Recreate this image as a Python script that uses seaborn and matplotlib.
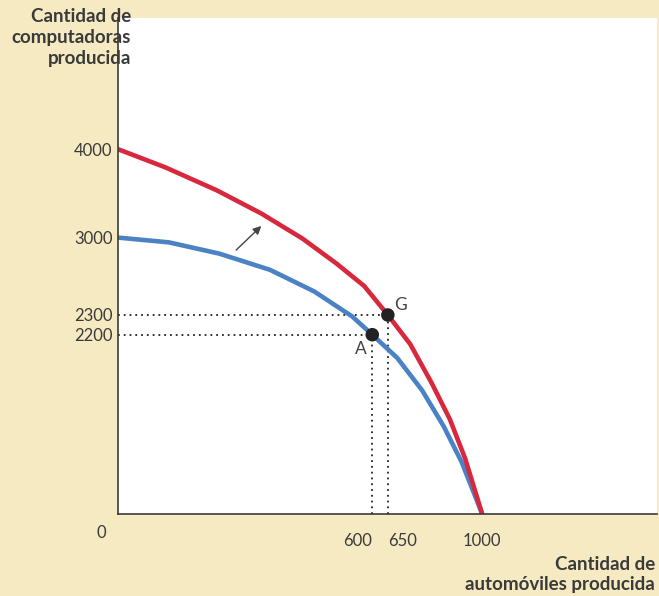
import numpy as np
import pandas as pd
import matplotlib
matplotlib.use("Agg")
import matplotlib.pyplot as plt
import seaborn as sns

# data (the drawing is not to scale, see the axis anchors)
red_x = [0, 112, 233, 338, 435, 516, 581, 650, 733, 813, 880, 937, 1000]
red_y = [4000, 3794, 3535, 3273, 2992, 2764, 2562, 2300, 2084, 1604, 1163, 679, 0]
blue_x = [0, 120, 239, 359, 463, 553, 600, 685, 777, 857, 924, 1000]
blue_y = [3000, 2957, 2855, 2708, 2513, 2292, 2200, 1914, 1518, 1077, 636, 0]
point_names = ["A", "G"]
point_x = [600, 650]
point_y = [2200, 2300]
x_ticks = [600, 650, 1000]
y_ticks = [2200, 2300, 3000, 4000]

# axis anchors: value -> drawn position (the textbook figure is schematic)
x_vals = [-1000, 0, 600, 650, 1000, 3000]
x_pos = [-420, 0, 254.2, 269.8, 364.1, 918.1]
y_vals = [-2000, 0, 2200, 2300, 3000, 4000, 8000]
y_pos = [-164, 0, 179.3, 199.0, 276.4, 364.8, 718.4]

beige = "#f6eac3"
red = "#d8283e"
blue = "#4a82c4"
ink = "#3a3a3a"

sns.set_style("white")
plt.rcParams["font.family"] = ["Lato", "DejaVu Sans"]

fig = plt.figure(figsize=(6.59, 5.96), dpi=100, facecolor=beige)
ax = fig.add_axes([118 / 659, 82 / 596, 539 / 659, 496 / 596])
ax.set_facecolor("white")

ax.set_xscale("function", functions=(lambda v: np.interp(v, x_vals, x_pos),
                                     lambda p: np.interp(p, x_pos, x_vals)))
ax.set_yscale("function", functions=(lambda v: np.interp(v, y_vals, y_pos),
                                     lambda p: np.interp(p, y_pos, y_vals)))

df_red = pd.DataFrame({"x": red_x, "y": red_y})
df_blue = pd.DataFrame({"x": blue_x, "y": blue_y})
sns.lineplot(data=df_blue, x="x", y="y", sort=False, color=blue, linewidth=3.3, ax=ax)
sns.lineplot(data=df_red, x="x", y="y", sort=False, color=red, linewidth=3.3, ax=ax)

# dotted guides to the axes
for px, py in zip(point_x, point_y):
    ax.plot([0, px], [py, py], color="#222222", lw=1.3, linestyle=(0, (1, 2.2)), zorder=1)
    ax.plot([px, px], [0, py], color="#222222", lw=1.3, linestyle=(0, (1, 2.2)), zorder=1)

sns.scatterplot(x=point_x, y=point_y, color="#222222", s=95, edgecolor="none", zorder=5, ax=ax)
offsets = {"A": (-8, -10), "G": (9, 7)}
for name, px, py in zip(point_names, point_x, point_y):
    ax.annotate(name, xy=(px, py), xytext=offsets[name], textcoords="offset points",
                ha="center", va="center", fontsize=12.5, color="#444444")

# arrow showing the shift of the frontier
ax.annotate("", xy=(343, 3153), xytext=(274, 2870),
            arrowprops=dict(arrowstyle="-|>", color="#444444", lw=1.0, mutation_scale=12))

ax.set_xlim(0, 1631)
ax.set_ylim(0, 5484)
ax.set_xticks(x_ticks)
ax.set_xticklabels([str(v) for v in x_ticks])
ax.set_yticks(y_ticks)
ax.set_yticklabels([str(v) for v in y_ticks])
ax.tick_params(length=0, labelsize=12, labelcolor=ink)
ax.tick_params(axis="x", pad=14)
ax.tick_params(axis="y", pad=4)
xlabels = ax.get_xticklabels()
xlabels[0].set_horizontalalignment("right")
xlabels[1].set_horizontalalignment("left")
ax.set_xlabel("")
ax.set_ylabel("")

for side in ["top", "right"]:
    ax.spines[side].set_visible(False)
for side in ["left", "bottom"]:
    ax.spines[side].set_color(ink)
    ax.spines[side].set_linewidth(1.2)

ax.annotate("0", xy=(0, 0), xytext=(-12, -14), textcoords="offset points",
            ha="center", va="center", fontsize=12, color=ink)

fig.text(131 / 659, 1 - 8 / 596, "Cantidad de\ncomputadoras\nproducida", ha="right", va="top",
         fontsize=13.5, fontweight="bold", color=ink, linespacing=1.3)
fig.text(655 / 659, 3 / 596, "Cantidad de\nautomóviles producida", ha="right", va="bottom",
         fontsize=13.5, fontweight="bold", color=ink, linespacing=1.25)

fig.savefig("out.png", dpi=100, facecolor=beige)
